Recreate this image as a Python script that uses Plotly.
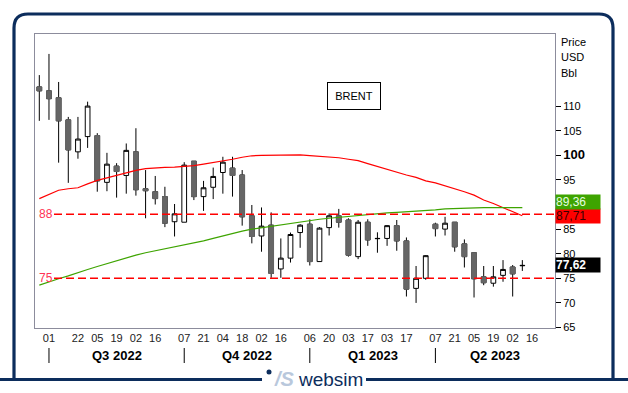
import plotly.graph_objects as go
import pandas as pd

# ---------------- data ----------------
dates = pd.date_range("2022-06-24", periods=51, freq="7D")

open_ = [113.9, 113.1, 111.7, 107.2, 100.7, 103.8, 104.0, 94.5, 97.8, 95.9,
         100.7, 93.2, 92.6, 91.6, 86.5, 86.4, 98.8, 91.6, 93.5, 96.5,
         97.4, 96.0, 87.7, 83.6, 85.8, 76.9, 79.1, 84.3, 86.0, 78.4,
         85.3, 87.7, 86.85, 79.4, 86.4, 83.05, 83.1, 85.7, 82.6, 72.95,
         75.0, 86.0, 85.0, 86.4, 82.0, 80.2, 75.3, 74.0, 75.6, 77.3,
         77.55]
high = [116.3, 120.6, 114.9, 107.8, 107.8, 110.9, 104.5, 100.5, 98.4, 102.4,
        105.5, 97.0, 95.8, 93.6, 90.1, 98.6, 98.8, 94.8, 97.5, 99.7,
        99.7, 97.0, 89.9, 89.4, 88.4, 83.1, 84.3, 86.0, 87.0, 85.4,
        88.2, 89.1, 87.2, 86.85, 87.0, 84.35, 85.8, 86.85, 83.3, 77.5,
        79.7, 86.3, 87.5, 86.4, 82.9, 80.3, 77.5, 77.5, 78.7, 77.7,
        78.7]
low = [107.0, 107.2, 98.5, 94.4, 99.3, 101.5, 92.6, 92.7, 91.4, 92.2,
       91.8, 87.2, 90.0, 85.4, 83.5, 86.4, 90.9, 88.7, 91.1, 92.2,
       91.6, 85.7, 82.1, 80.4, 75.1, 75.1, 78.2, 81.2, 77.6, 78.4,
       83.7, 85.3, 79.4, 78.9, 81.6, 80.2, 81.6, 80.6, 71.3, 70.0,
       74.7, 83.5, 83.7, 80.4, 77.2, 71.1, 73.6, 73.3, 74.3, 71.3,
       76.5]
close = [113.1, 111.5, 107.0, 101.1, 103.3, 110.0, 94.8, 98.2, 96.7, 101.0,
         93.0, 92.8, 91.2, 86.2, 88.1, 98.0, 91.6, 93.4, 95.7, 98.6,
         95.9, 87.5, 83.5, 85.6, 76.0, 79.1, 83.9, 85.8, 78.4, 85.2,
         87.7, 86.4, 79.7, 86.4, 82.8, 83.1, 85.7, 82.6, 72.8, 75.0,
         79.6, 85.1, 86.2, 81.4, 79.4, 74.9, 74.1, 75.3, 76.8, 75.9,
         77.62]

ma_red = [91.2, 92.1, 92.9, 93.2, 93.4, 94.2, 94.9, 95.4, 95.9, 96.5,
          96.95, 97.3, 97.5, 97.55, 97.6, 97.7, 97.9, 98.2, 98.5, 98.85,
          99.2, 99.6, 99.9, 100.0, 100.05, 100.15, 100.2, 100.1, 99.95, 99.8,
          99.7, 99.5, 99.2, 98.9, 98.3, 97.7, 97.2, 96.6, 96.0, 95.5,
          94.8, 94.4, 93.8, 93.3, 92.6, 91.9, 90.9, 90.2, 89.4, 88.6,
          87.71]
ma_green = [73.6, 74.3, 74.9, 75.5, 76.2, 76.8, 77.4, 78.0, 78.6, 79.2,
            79.7, 80.2, 80.6, 81.0, 81.3, 81.7, 82.1, 82.6, 83.1, 83.6,
            84.2, 84.6, 85.0, 85.3, 85.6, 85.9, 86.2, 86.4, 86.7, 87.0,
            87.2, 87.4, 87.6, 87.8, 88.0, 88.15, 88.3, 88.4, 88.5, 88.6,
            88.8, 88.9, 89.1, 89.2, 89.3, 89.36, 89.36, 89.36, 89.36, 89.36,
            89.36]

levels = [88, 75]
last_green = 89.36
last_red = 87.71
last_price = 77.62

ytick_vals = [65, 70, 75, 80, 85, 95, 100, 105, 110]
xtick_dates = ["2022-07-01", "2022-07-22", "2022-08-05", "2022-08-19", "2022-09-02", "2022-09-16",
               "2022-10-07", "2022-10-21", "2022-11-04", "2022-11-18", "2022-12-02", "2022-12-16",
               "2023-01-06", "2023-01-20", "2023-02-03", "2023-02-17", "2023-03-03", "2023-03-17",
               "2023-04-07", "2023-04-21", "2023-05-05", "2023-05-19", "2023-06-02", "2023-06-16"]
quarter_labels = ["Q3 2022", "Q4 2022", "Q1 2023", "Q2 2023"]
quarter_starts = ["2022-07-01", "2022-10-07", "2023-01-06", "2023-04-07"]

# ---------------- layout helpers ----------------
FONT = "Liberation Sans, Arial, sans-serif"
W, H = 628, 393
L, R, T, B = 35, 73, 34, 65
PW, PH = W - L - R, H - T - B
x_range = [pd.Timestamp("2022-06-20 21:00"), pd.Timestamp("2023-07-02 16:00")]
y_range = [64.9, 124.65]
NAVY = "#0c2d5c"
FRAME = "#8c8c9c"


def px(x):
    return (x - L) / PW


def py(y):
    return (H - B - y) / PH


def date_to_paper(d):
    d = pd.Timestamp(d)
    return (d - x_range[0]) / (x_range[1] - x_range[0])


fig = go.Figure()

fig.add_trace(go.Candlestick(
    x=dates, open=open_, high=high, low=low, close=close,
    increasing=dict(line=dict(color="black", width=1), fillcolor="white"),
    decreasing=dict(line=dict(color="black", width=1), fillcolor="#666666"),
    whiskerwidth=0, showlegend=False, hoverinfo="skip"))

# gray bodies without black outline for falling weeks
dn = [i for i in range(len(dates)) if close[i] < open_[i]]
fig.add_trace(go.Candlestick(
    x=[dates[i] for i in dn], open=[open_[i] for i in dn], close=[close[i] for i in dn],
    high=[open_[i] for i in dn], low=[close[i] for i in dn],
    increasing=dict(line=dict(color="#666666", width=1), fillcolor="#666666"),
    decreasing=dict(line=dict(color="#666666", width=1), fillcolor="#666666"),
    whiskerwidth=0, showlegend=False, hoverinfo="skip"))

fig.add_trace(go.Scatter(x=dates, y=ma_red, mode="lines",
                         line=dict(color="#ff0000", width=1.2), showlegend=False, hoverinfo="skip"))
fig.add_trace(go.Scatter(x=dates, y=ma_green, mode="lines",
                         line=dict(color="#3ea400", width=1.2), showlegend=False, hoverinfo="skip"))

shapes = []
for lv in levels:
    shapes.append(dict(type="line", xref="paper", yref="y", x0=px(54), x1=1, y0=lv, y1=lv,
                       line=dict(color="#ff0000", width=1.5, dash="8px,4px")))

# outer rounded frame
path = (f"M {px(14)},{py(379.5)} L {px(14)},{py(28)} Q {px(14)},{py(14)} {px(28)},{py(14)} "
        f"L {px(599)},{py(14)} Q {px(613)},{py(14)} {px(613)},{py(28)} L {px(613)},{py(379.5)}")
shapes.append(dict(type="path", xref="paper", yref="paper", path=path,
                   line=dict(color=NAVY, width=3.2)))
shapes.append(dict(type="line", xref="paper", yref="paper", x0=px(0), x1=px(262),
                   y0=py(379.5), y1=py(379.5), line=dict(color=NAVY, width=3.2)))
shapes.append(dict(type="line", xref="paper", yref="paper", x0=px(366), x1=px(628),
                   y0=py(379.5), y1=py(379.5), line=dict(color=NAVY, width=3.2)))
shapes.append(dict(type="circle", xref="paper", yref="paper", x0=px(266.5), x1=px(271.5),
                   y0=py(369.5), y1=py(374.5), fillcolor=NAVY, line=dict(width=0)))

# quarter separators
qx = [date_to_paper(d) for d in quarter_starts]
for x in qx:
    shapes.append(dict(type="line", xref="paper", yref="paper", x0=x, x1=x,
                       y0=py(348), y1=py(363), line=dict(color="black", width=1)))

ann = []
qbounds = qx + [1.0]
for i, q in enumerate(quarter_labels):
    ann.append(dict(text=f"<b>{q}</b>", xref="paper", yref="paper",
                    x=(qbounds[i] + qbounds[i + 1]) / 2, y=py(355), xanchor="center", yanchor="middle",
                    showarrow=False, font=dict(size=13, color="black", family=FONT)))

for lv in levels:
    ann.append(dict(text=str(lv), xref="paper", yref="y", x=px(37), y=lv, xanchor="left",
                    yanchor="middle", showarrow=False, font=dict(size=12, color="#ff3355", family=FONT)))

for txt, yy in [("Price", 41.7), ("USD", 56.7), ("Bbl", 72.7)]:
    ann.append(dict(text=txt, xref="paper", yref="paper", x=px(559), y=py(yy), xanchor="left",
                    yanchor="middle", showarrow=False, font=dict(size=11, color="black", family=FONT)))

unit_px = PH / (y_range[1] - y_range[0])
box_h = 14
for txt, yv, bg, fc in [
    (f"{last_red:.2f}".replace(".", ","), last_red, "#ff0000", "#3a0000"),
    (f"{last_green:.2f}".replace(".", ","), last_red + box_h / unit_px, "#3ea400", "#e6ffe0"),
    (f"<b>{last_price:.2f}".replace(".", ",") + "</b>", last_price, "#000000", "#ffffff"),
]:
    ann.append(dict(text=txt, xref="paper", yref="y", x=1, y=yv, xanchor="left", yanchor="middle",
                    width=44, height=box_h, align="left", bgcolor=bg, borderpad=0, showarrow=False,
                    font=dict(size=12, color=fc, family=FONT)))

ann.append(dict(text="BRENT", xref="paper", yref="paper", x=px(353.8), y=py(96),
                xanchor="center", yanchor="middle", width=50, height=24, bordercolor="black",
                borderwidth=1, bgcolor="white", showarrow=False,
                font=dict(size=11, color="black", family=FONT)))

# logo
ann.append(dict(text="<b><i>/S</i></b>", xref="paper", yref="paper", x=px(284), y=py(379),
                xanchor="center", yanchor="middle", showarrow=False,
                font=dict(size=20, color="#b9c8dc", family=FONT)))
ann.append(dict(text="websim", xref="paper", yref="paper", x=px(330.5), y=py(379),
                xanchor="center", yanchor="middle", showarrow=False,
                font=dict(size=19, color=NAVY, family=FONT)))

ytick_text = [('<span style="font-size:13px"><b>100</b></span>' if v == 100 else str(v)) for v in ytick_vals]
xtick_text = [pd.Timestamp(d).strftime("%d") for d in xtick_dates]

fig.update_layout(
    width=W, height=H, margin=dict(l=L, r=R, t=T, b=B),
    paper_bgcolor="white", plot_bgcolor="white",
    font=dict(family=FONT, color="black"),
    showlegend=False, shapes=shapes, annotations=ann,
    xaxis=dict(type="date", range=x_range, rangeslider=dict(visible=False),
               tickvals=xtick_dates, ticktext=xtick_text, ticks="",
               tickfont=dict(size=11, color="#222222", family=FONT),
               showgrid=False, zeroline=False, showline=True, linecolor=FRAME, linewidth=1, mirror=True),
    yaxis=dict(range=y_range, side="right", tickvals=ytick_vals, ticktext=ytick_text,
               ticks="outside", ticklen=5, tickcolor="black", tickwidth=1,
               tickfont=dict(size=11, color="black", family=FONT),
               showgrid=False, zeroline=False, showline=True, linecolor=FRAME, linewidth=1, mirror=True),
)

fig.write_html("out.html", config={"displayModeBar": False},
               post_script="document.body.style.margin='0';document.body.style.overflow='hidden';")
